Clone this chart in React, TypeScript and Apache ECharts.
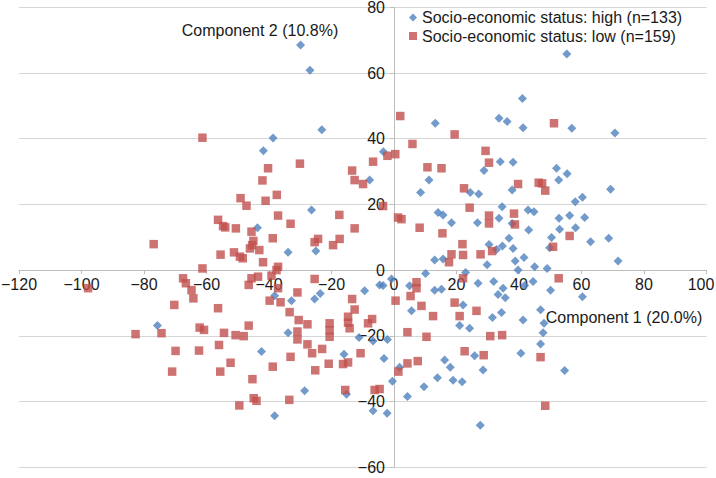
import React, { useEffect, useRef } from "react";
import * as echarts from "echarts";

const highName = "Socio-economic status: high (n=133)";
const lowName = "Socio-economic status: low (n=159)";
const xTitle = "Component 1 (20.0%)";
const yTitle = "Component 2 (10.8%)";

const highPoints: number[][] = [
  [-29.9, 68.5], [-26.9, 60.8], [-23.1, 42.7], [-38.7, 40.2], [-41.8, 36.3],
  [13.2, 44.7], [33.6, 46.2], [36.2, 45.2], [41.1, 52.2], [41.3, 43.3], [-3.4, 36.0],
  [55.3, 65.8], [56.9, 43.2], [70.7, 41.7],
  [-26.4, 18.3], [-43.7, 12.9], [-33.9, 5.4], [-25.0, 5.8], [-38.2, -7.8], [-32.8, -9.3], [-25.4, -8.8], [-23.6, -7.1],
  [-7.8, 27.4], [11.2, 27.4], [34.0, 33.0], [38.1, 32.8], [28.8, 30.3], [37.8, 24.4], [24.4, 23.6], [27.1, 23.2],
  [8.5, 23.6], [14.1, 17.5], [15.7, 16.8], [18.4, 14.4], [34.6, 19.3], [26.7, 14.4], [33.6, 15.8], [37.8, 14.2],
  [42.9, 18.3], [36.8, 9.7], [30.4, 7.8], [34.7, 7.3], [38.1, 6.6], [32.8, 6.3], [13.0, 3.1], [15.7, 3.4],
  [29.8, 1.6], [38.8, 2.8], [41.6, 3.8], [39.7, 0.0], [10.1, -1.0], [22.9, -0.7], [26.9, -4.0], [31.9, -3.5],
  [5.0, -4.8], [-0.8, -2.7], [-4.6, -4.5], [-3.5, -4.7], [-9.4, -6.3], [13.0, -6.1], [15.2, -5.8], [34.9, -5.5],
  [33.3, -7.4], [35.6, -8.4], [22.1, -10.6], [5.6, -12.4], [34.4, -12.9],
  [52.0, 31.0], [55.4, 29.3], [52.7, 27.4], [69.3, 24.6], [60.3, 22.2], [58.0, 20.8], [44.8, 17.8], [52.8, 15.8],
  [56.2, 16.6], [61.0, 16.0], [43.1, 12.2], [53.0, 12.4], [58.1, 12.9], [50.4, 9.9], [62.9, 8.6], [68.7, 9.7],
  [49.8, 6.8], [71.7, 2.8], [45.0, 1.0], [49.0, 0.5], [44.5, -3.5], [50.1, -6.1], [60.3, -8.1], [41.8, -4.7], [46.9, -12.1],
  [-75.7, -16.9],
  [-33.9, -19.1], [-42.4, -24.8], [-16.0, -25.6], [-28.6, -36.7], [-15.2, -37.8], [-38.2, -44.3],
  [31.5, -14.4], [41.3, -15.2], [21.0, -16.9], [24.2, -17.7], [-11.2, -20.5], [-6.7, -21.6], [-2.1, -21.1],
  [-3.2, -26.9], [25.8, -26.1], [40.6, -25.3], [16.2, -27.4], [1.8, -29.6], [18.0, -29.6], [28.5, -30.4],
  [-0.5, -33.8], [13.9, -32.8], [18.9, -33.5], [21.8, -34.0], [9.6, -35.5], [4.3, -38.5], [-6.7, -42.8],
  [-2.2, -43.6], [27.6, -47.2],
  [48.0, -16.2], [47.7, -19.1], [46.9, -22.5], [54.6, -30.6],
];

const lowPoints: number[][] = [
  [-61.3, 40.3],
  [2.0, 46.9], [19.4, 41.3], [5.9, 38.4], [-2.1, 34.8], [0.4, 35.3], [29.3, 36.3],
  [51.2, 44.7],
  [-76.9, 7.9], [-97.9, -5.5], [-70.3, -10.6],
  [-30.1, 32.4], [-40.3, 31.0], [-42.1, 27.3], [-13.4, 30.3], [-37.5, 22.9], [-49.1, 21.9], [-47.2, 19.6],
  [-41.1, 21.1], [-37.1, 16.6], [-17.5, 16.8], [-56.3, 15.3], [-54.7, 13.4], [-54.0, 13.0], [-50.6, 12.7],
  [-45.6, 11.7], [-33.1, 14.1], [-38.8, 9.7], [-24.3, 9.5], [-25.4, 8.5], [-17.4, 9.5], [-19.5, 7.6],
  [-45.0, 8.9], [-45.4, 7.6], [-46.1, 6.6], [-43.1, 6.1], [-51.2, 5.4], [-55.5, 4.7], [-49.3, 4.1],
  [-48.4, 3.6], [-41.9, 2.4], [-37.1, 1.0], [-37.6, 0.0], [-61.3, 0.5], [-39.2, -1.7], [-67.5, -2.5],
  [-66.6, -4.0], [-64.8, -6.1], [-64.2, -8.6], [-56.3, -11.6], [-45.6, -2.5], [-43.5, -2.0], [-46.5, -4.5],
  [-25.4, -2.7], [-37.1, -5.5], [-39.8, -9.3], [-36.3, -9.8], [-30.9, -6.8], [-33.4, -12.8], [-13.4, -8.8],
  [-6.7, 33.0], [-12.6, 27.4], [-9.9, 26.2], [10.7, 31.3], [15.2, 31.0], [30.4, 32.7], [39.7, 26.2],
  [22.4, 24.9], [-3.5, 19.5], [24.2, 19.0], [30.4, 16.6], [30.4, 14.2], [38.4, 17.2], [38.7, 13.9],
  [1.3, 16.0], [2.4, 15.5], [-12.6, 12.7], [8.2, 12.9], [15.5, 11.2], [21.9, 7.9], [18.4, 4.8],
  [22.1, 4.6], [27.7, 4.8], [31.4, 5.8], [17.6, 2.4], [22.1, -2.5], [7.2, -3.7], [7.2, -5.5],
  [5.3, -7.9], [0.5, -9.3], [8.8, -10.9], [19.4, -9.9], [26.4, -12.4], [-12.6, -12.0],
  [46.3, 26.6], [47.4, 26.4], [48.4, 24.2], [56.2, 10.4], [50.9, 7.1], [52.7, -2.5],
  [-82.7, -19.5], [-74.4, -19.2], [-69.9, -24.6], [-71.0, -30.9],
  [-30.5, -15.2], [-27.7, -16.5], [-62.2, -17.5], [-60.8, -18.2], [-46.5, -16.9], [-54.4, -19.1],
  [-50.7, -19.8], [-48.1, -20.1], [-30.9, -18.7], [-30.9, -21.1], [-20.6, -16.2], [-20.6, -18.3],
  [-20.6, -20.3], [-14.7, -16.0], [-14.2, -17.7], [-14.7, -14.2], [-62.4, -24.5], [-56.0, -22.8],
  [-27.7, -22.6], [-26.2, -25.3], [-23.0, -24.0], [-33.1, -26.4], [-52.3, -28.2], [-55.6, -30.9],
  [-38.8, -29.4], [-25.2, -30.5], [-20.9, -28.5], [-16.3, -28.6], [-14.7, -28.1], [-45.3, -33.2],
  [-15.6, -36.5], [-44.9, -39.0], [-44.0, -39.8], [-49.5, -41.2], [-33.5, -39.5],
  [-8.3, -16.2], [-7.0, -14.9], [12.5, -14.0], [21.0, -14.0], [4.3, -18.9], [10.4, -20.3],
  [30.8, -20.1], [34.6, -19.8], [-10.7, -25.3], [22.6, -24.7], [28.7, -25.9], [7.6, -27.7],
  [4.3, -28.4], [1.4, -30.9], [-6.2, -36.5], [-4.6, -36.2],
  [46.9, -26.5], [48.4, -41.3],
];

const FONT = "'Liberation Sans', Arial, Helvetica, sans-serif";
const TEXT_COLOR = "#1a1a1a";
const minus = (v: number) => String(v).replace("-", "\u2212");

// layout (pixels)
const GRID_LEFT = 19;
const GRID_RIGHT = 9.5;
const GRID_TOP = 7.3;
const GRID_BOTTOM = 10.8;
const W = 716;
const H = 478;
const X_MIN = -120, X_MAX = 100, Y_MIN = -60, Y_MAX = 80;
const plotW = W - GRID_LEFT - GRID_RIGHT;
const plotH = H - GRID_TOP - GRID_BOTTOM;
// shift axes from grid edges to the zero crossing
const xAxisOffset = -((0 - Y_MIN) / (Y_MAX - Y_MIN)) * plotH;
const yAxisOffset = -((0 - X_MIN) / (X_MAX - X_MIN)) * plotW;

export default function App() {
  const ref = useRef<HTMLDivElement>(null);
  useEffect(() => {
    if (!ref.current) return;
    const chart = echarts.init(ref.current, null, { renderer: "svg" });
    chart.setOption({
      animation: false,
      backgroundColor: "#ffffff",
      textStyle: { fontFamily: FONT },
      grid: {
        left: GRID_LEFT,
        right: GRID_RIGHT,
        top: GRID_TOP,
        bottom: GRID_BOTTOM,
        containLabel: false,
        outerBoundsMode: "none",
      },
      legend: {
        orient: "vertical",
        left: 409,
        top: 7.5,
        padding: 0,
        itemWidth: 8,
        itemHeight: 8,
        itemGap: -1.5,
        textStyle: { fontSize: 16, lineHeight: 20, color: TEXT_COLOR, fontFamily: FONT },
        data: [
          { name: highName, icon: "diamond" },
          { name: lowName, icon: "rect" },
        ],
      },
      xAxis: {
        type: "value",
        min: X_MIN,
        max: X_MAX,
        interval: 20,
        offset: xAxisOffset,
        axisLine: { onZero: false, lineStyle: { color: "#bdbdbd", width: 1 } },
        axisTick: { show: true, length: 4, lineStyle: { color: "#bdbdbd" } },
        axisLabel: {
          margin: 6,
          fontSize: 16,
          color: TEXT_COLOR,
          fontFamily: FONT,
          formatter: (v: number) => (v === X_MAX ? `{edge|${v}}` : minus(v)),
          rich: {
            edge: { fontSize: 16, color: TEXT_COLOR, fontFamily: FONT, padding: [0, 11, 0, 0] },
          },
        },
        splitLine: { show: false },
      },
      yAxis: {
        type: "value",
        min: Y_MIN,
        max: Y_MAX,
        interval: 20,
        offset: yAxisOffset,
        axisLine: { onZero: false, lineStyle: { color: "#bdbdbd", width: 1 } },
        axisTick: { show: true, length: 4, lineStyle: { color: "#bdbdbd" } },
        axisLabel: { margin: 9, fontSize: 16, color: TEXT_COLOR, fontFamily: FONT, formatter: minus },
        splitLine: { show: true, lineStyle: { color: "#d6d6d6", width: 1 } },
      },
      graphic: [
        {
          type: "text",
          left: 181.7,
          top: 22.5,
          style: { text: yTitle, fill: TEXT_COLOR, font: `16px ${FONT}` },
        },
        {
          type: "text",
          left: 545.7,
          top: 309.5,
          style: { text: xTitle, fill: TEXT_COLOR, font: `16px ${FONT}` },
        },
      ],
      series: [
        {
          name: highName,
          type: "scatter",
          symbol: "diamond",
          symbolSize: 9,
          itemStyle: { color: "#4F81BD" },
          data: highPoints,
        },
        {
          name: lowName,
          type: "scatter",
          symbol: "rect",
          symbolSize: 8.5,
          itemStyle: { color: "#C0504D" },
          data: lowPoints,
        },
      ],
    });
    return () => chart.dispose();
  }, []);
  return (
    <div
      ref={ref}
      style={{ position: "fixed", left: 0, top: 0, width: W, height: H, background: "#fff" }}
    />
  );
}
